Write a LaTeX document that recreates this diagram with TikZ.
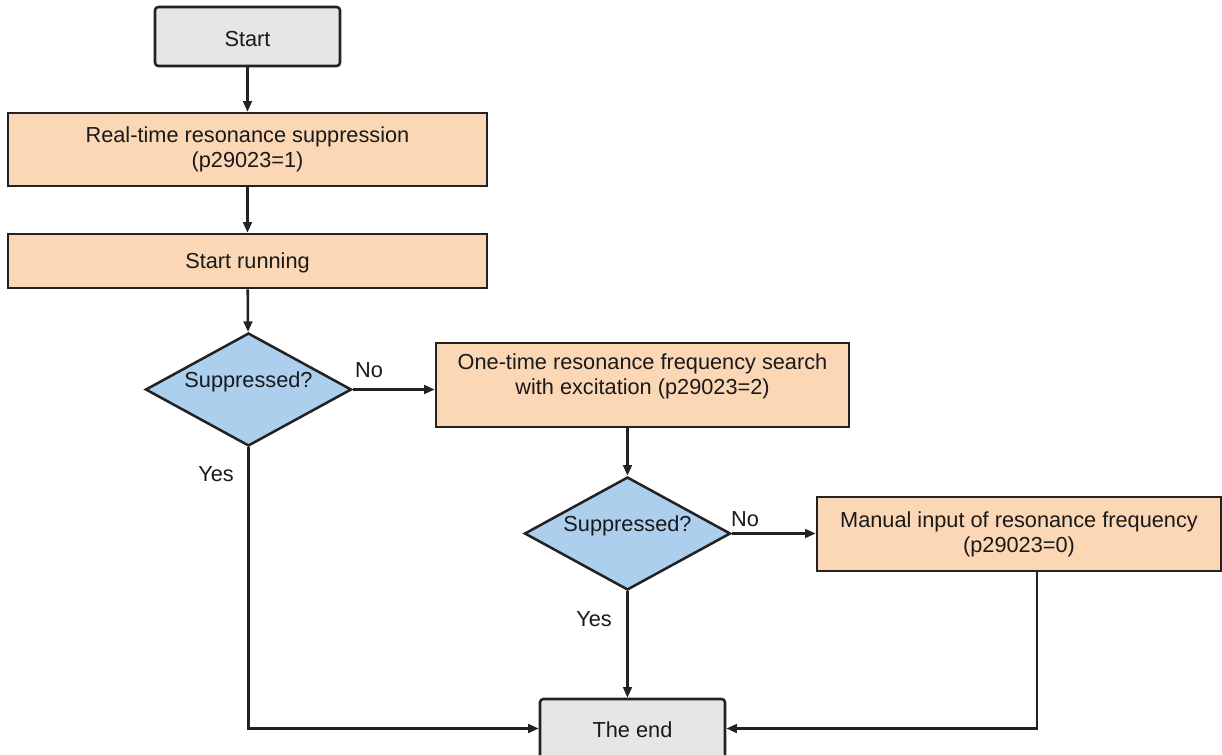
\documentclass[tikz,border=0pt]{standalone}
\usepackage{fontspec}
\setmainfont{Liberation Sans}
\usetikzlibrary{shapes.geometric,arrows.meta}
\definecolor{peach}{HTML}{FBD7B5}
\definecolor{skyb}{HTML}{ADCFEE}
\definecolor{lgray}{HTML}{E6E6E6}
\definecolor{ink}{HTML}{222222}
\begin{document}
\begin{tikzpicture}[x=0.75pt,y=-0.75pt,
  every node/.style={font=\fontsize{16.3pt}{18.75pt}\selectfont, text=black!90},
  proc/.style={draw=ink, fill=peach, line width=1.9pt, align=center, inner sep=0pt},
  term/.style={draw=ink, fill=lgray, line width=1.9pt, rounded corners=2.5pt, inner sep=0pt, minimum width=138.75pt, minimum height=44.25pt},
  dec/.style={draw=ink, fill=skyb, line width=1.9pt, diamond, aspect=1.82, inner sep=0pt, minimum width=154.5pt, minimum height=84.75pt},
  conn/.style={draw=ink, line width=1.9pt, -{Triangle[length=8pt,width=6.5pt]}},
  lab/.style={inner sep=0pt}
]
\useasboundingbox (0,0) rectangle (1222,754);
\node[term, text height=15pt, text depth=0pt] (start) at (247.5,36.5) {Start};
\node[proc, minimum width=359.25pt, minimum height=54.75pt] (b1) at (247.5,149.5) {Real-time resonance suppression\\(p29023=1)};
\node[proc, minimum width=359.25pt, minimum height=40.5pt, text height=11.5pt, text depth=0pt] (b2) at (247.5,261) {Start running};
\node[dec, label={[yshift=6pt]center:Suppressed?}] (d1) at (248.5,389.5) {};
\node[proc, minimum width=309.75pt, minimum height=63pt,
      label={[align=center,yshift=6.8pt]center:{One-time resonance frequency search\\with excitation (p29023=2)}}] (b3) at (642.5,385) {};
\node[dec, label={[yshift=6pt]center:Suppressed?}] (d2) at (627.5,533.5) {};
\node[proc, minimum width=303pt, minimum height=55.5pt] (b4) at (1019,534) {Manual input of resonance frequency\\(p29023=0)};
\node[term, text height=12.8pt, text depth=0pt] (end) at (632.5,728.5) {The end};
\coordinate (b4out) at ([xshift=13.5pt]b4.south);

\node[lab] (no1) at (369,370) {No};
\node[lab] (yes1) at (216,474) {Yes};
\node[lab] (no2) at (745,519) {No};
\node[lab] (yes2) at (594,619) {Yes};

\draw[conn] (start) -- (b1);
\draw[conn] (b1) -- (b2);
\draw[conn] (b2) -- (d1);
\draw[conn] (d1.east) -- (d1.east -| b3.west);
\draw[conn] (d2.north |- b3.south) -- (d2.north);
\draw[conn] (d2.east) -- (d2.east -| b4.west);
\draw[conn] (d1.south) -- (d1.south |- end.west) -- (end.west);
\draw[conn] (d2.south) -- (d2.south |- end.north);
\draw[conn] (b4out) -- (b4out |- end.east) -- (end.east);
\end{tikzpicture}
\end{document}
